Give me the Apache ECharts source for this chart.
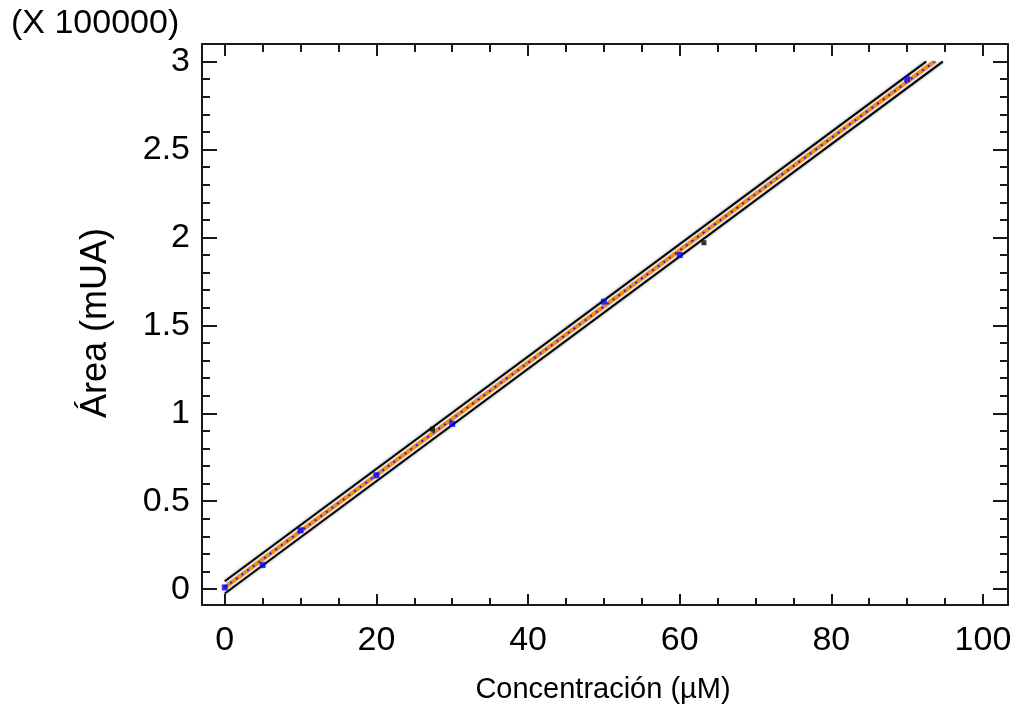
<!DOCTYPE html>
<html><head><meta charset="utf-8">
<script src="https://cdn.jsdelivr.net/npm/echarts@6/dist/echarts.min.js"></script>
<style>html,body{margin:0;padding:0;background:#fff}#c{width:1021px;height:719px}</style>
</head><body><div id="c"></div>
<script>
// ---- data ----
const xTicks = [0, 20, 40, 60, 80, 100];
const xMinorTicks = [5, 10, 15, 25, 30, 35, 45, 50, 55, 65, 70, 75, 85, 90, 95];
const yTicks = [0, 0.5, 1, 1.5, 2, 2.5, 3];
const yMinorTicks = [0.1, 0.2, 0.3, 0.4, 0.6, 0.7, 0.8, 0.9, 1.1, 1.2, 1.3, 1.4, 1.6, 1.7, 1.8, 1.9, 2.1, 2.2, 2.3, 2.4, 2.6, 2.7, 2.8, 2.9];

const observed = [[0, 0.01], [5, 0.137], [10, 0.335], [20, 0.648], [30, 0.94], [50, 1.635], [60, 1.90], [90, 2.90]];
const excluded = [[27.4, 0.91], [63.2, 1.97]];

const fitLine = [[0, 0.010], [93.6, 3.0]];
const confUpper = [[0, 0.016], [93.4, 3.0]];
const confLower = [[0, 0.004], [93.8, 3.0]];
const predUpper = [[0, 0.045], [92.5, 3.0]];
const predLower = [[0, -0.025], [94.7, 3.0]];

const FONT = "'Liberation Sans', Arial, sans-serif";
const chart = echarts.init(document.getElementById('c'), null, {renderer: 'canvas'});

const XMIN = -3, XMAX = 103.3, YMIN = -0.09, YMAX = 3.1;
const lineCol = '#1a1a1a';

function xAx(pos, ticks, len, showLine, showLabel) {
  return {
    type: 'value', position: pos, min: XMIN, max: XMAX,
    splitLine: {show: false},
    axisLine: {show: showLine, onZero: false, lineStyle: {color: lineCol, width: 2}},
    axisTick: {show: true, inside: true, length: len, customValues: ticks, lineStyle: {color: lineCol, width: 2}},
    axisLabel: showLabel ? {show: true, customValues: ticks, margin: 19, color: '#000', fontSize: 34, fontFamily: FONT} : {show: false}
  };
}
function yAx(pos, ticks, len, showLine, showLabel) {
  return {
    type: 'value', position: pos, min: YMIN, max: YMAX,
    splitLine: {show: false},
    axisLine: {show: showLine, onZero: false, lineStyle: {color: lineCol, width: 2}},
    axisTick: {show: true, inside: true, length: len, customValues: ticks, lineStyle: {color: lineCol, width: 2}},
    axisLabel: showLabel ? {show: true, customValues: ticks, margin: 12, color: '#000', fontSize: 34, fontFamily: FONT} : {show: false}
  };
}

function line(data, color, width, type, z, shadow) {
  const ls = {color: color, width: width, type: type};
  if (shadow) { ls.shadowColor = 'rgba(0,0,0,0.45)'; ls.shadowBlur = 3; }
  return {type: 'line', data: data, symbol: 'none', xAxisIndex: 0, yAxisIndex: 0, z: z,
    lineStyle: ls, silent: true, animation: false};
}

chart.setOption({
  animation: false,
  grid: {left: 202, right: 13, top: 44, bottom: 114, containLabel: false},
  xAxis: [
    xAx('bottom', xTicks, 11, true, true),
    xAx('bottom', xMinorTicks, 7, false, false),
    xAx('top', xTicks, 12, true, false),
    xAx('top', xMinorTicks, 8, false, false)
  ],
  yAxis: [
    yAx('left', yTicks, 15, true, true),
    yAx('left', yMinorTicks, 8, false, false),
    yAx('right', yTicks, 15, true, false),
    yAx('right', yMinorTicks, 8, false, false)
  ],
  series: [
    line(predUpper, '#000', 2, 'solid', 2, true),
    line(predLower, '#000', 2, 'solid', 2, true),
    line(confUpper, '#f28c18', 2.5, 'solid', 3),
    line(confLower, '#f28c18', 2.5, 'solid', 3),
    line(fitLine, '#1a1aff', 2, [2, 5], 4),
    {type: 'scatter', data: excluded, symbol: 'rect', symbolSize: 5, itemStyle: {color: '#000'}, z: 5},
    {type: 'scatter', data: observed, symbol: 'rect', symbolSize: 6, itemStyle: {color: '#0000ff'}, z: 6}
  ],
  graphic: [
    {type: 'text', left: 11, top: 7, style: {text: '(X 100000)', font: '34px ' + FONT, fill: '#000'}},
    {type: 'text', x: 96, y: 323, rotation: Math.PI / 2,
      style: {text: 'Área (mUA)', font: '36px ' + FONT, fill: '#000', textAlign: 'center', textVerticalAlign: 'middle'}},
    {type: 'text', x: 603, y: 690,
      style: {text: 'Concentración (µM)', font: '29px ' + FONT, fill: '#000', textAlign: 'center', textVerticalAlign: 'middle'}}
  ]
});
</script>
</body></html>
